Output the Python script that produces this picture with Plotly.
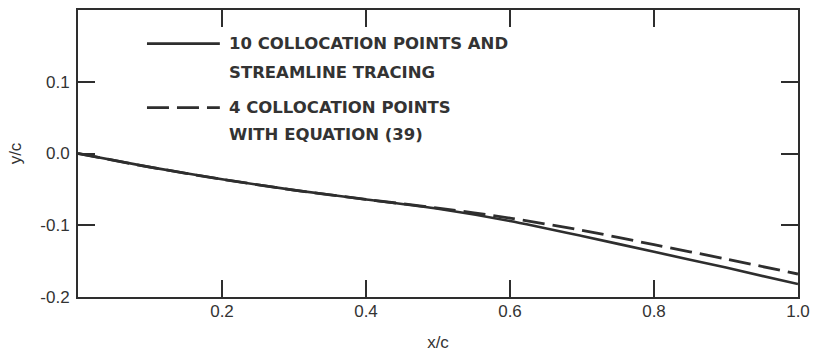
import plotly.graph_objects as go

# Chordwise stations
x_c = [0.0, 0.1, 0.2, 0.3, 0.4, 0.5, 0.6, 0.7, 0.8, 0.9, 1.0]

# Mean-line ordinates y/c for the two solution methods
y_ten_points = [0.0, -0.019, -0.036, -0.051, -0.064, -0.077, -0.094, -0.115, -0.137, -0.159, -0.182]
y_four_points = [0.0, -0.019, -0.036, -0.051, -0.064, -0.076, -0.090, -0.107, -0.127, -0.147, -0.168]

series_labels = [
    ["10 COLLOCATION POINTS AND", "STREAMLINE TRACING"],
    ["4 COLLOCATION POINTS", "WITH EQUATION (39)"],
]

x_tick_vals = [0.2, 0.4, 0.6, 0.8, 1.0]
x_tick_text = ["0.2", "0.4", "0.6", "0.8", "1.0"]
y_tick_vals = [-0.2, -0.1, 0.0, 0.1]
y_tick_text = ["-0.2", "-0.1", "0.0", "0.1"]

INK = "#2e2e2e"
TEXT = "#333333"
DASH = "22px,8px"
SANS = "Liberation Sans, Arial, sans-serif"

fig = go.Figure()
fig.add_trace(go.Scatter(x=x_c, y=y_ten_points, mode="lines",
                         line=dict(color=INK, width=2.6, shape="spline", smoothing=0.6),
                         showlegend=False))
fig.add_trace(go.Scatter(x=x_c, y=y_four_points, mode="lines",
                         line=dict(color=INK, width=2.8, dash=DASH, shape="spline", smoothing=0.6),
                         showlegend=False))

axis_common = dict(
    showline=True, linecolor=INK, linewidth=2, mirror="allticks",
    ticks="inside", ticklen=17, tickwidth=1.5, tickcolor=INK,
    showgrid=False, zeroline=False, automargin=False,
    tickfont=dict(family=SANS, size=17, color=TEXT),
)

fig.update_xaxes(range=[0, 1.0], tickvals=x_tick_vals, ticktext=x_tick_text,
                 ticklabelstandoff=-2,
                 title=dict(text="x/c", standoff=20, font=dict(family=SANS, size=17, color=TEXT)),
                 **axis_common)
fig.update_yaxes(range=[-0.2, 0.2], tickvals=y_tick_vals, ticktext=y_tick_text,
                 ticklabelstandoff=3,
                 title=dict(text="y/c", standoff=14, font=dict(family=SANS, size=17, color=TEXT)),
                 **axis_common)

# Key: line samples and two-line captions inside the upper-left of the plot
key_rows = [(0.883, 0.782, None), (0.660, 0.566, DASH)]
shapes = []
annotations = []
for (y_first, y_second, dash), lines in zip(key_rows, series_labels):
    shapes.append(dict(type="line", xref="paper", yref="paper",
                       x0=0.0958, x1=0.197, y0=y_first, y1=y_first,
                       line=dict(color=INK, width=2.8, dash=dash or "solid")))
    for y_pos, txt in zip((y_first, y_second), lines):
        annotations.append(dict(xref="paper", yref="paper", x=0.207, y=y_pos,
                                xanchor="left", yanchor="middle", showarrow=False,
                                text="<b>" + txt + "</b>",
                                font=dict(family="DejaVu Sans, sans-serif", size=16.5, color=TEXT)))

fig.update_layout(
    width=813, height=352,
    margin=dict(l=78, r=15, t=10, b=55),
    paper_bgcolor="white", plot_bgcolor="white",
    shapes=shapes, annotations=annotations,
)

fig.write_html("out.html")
